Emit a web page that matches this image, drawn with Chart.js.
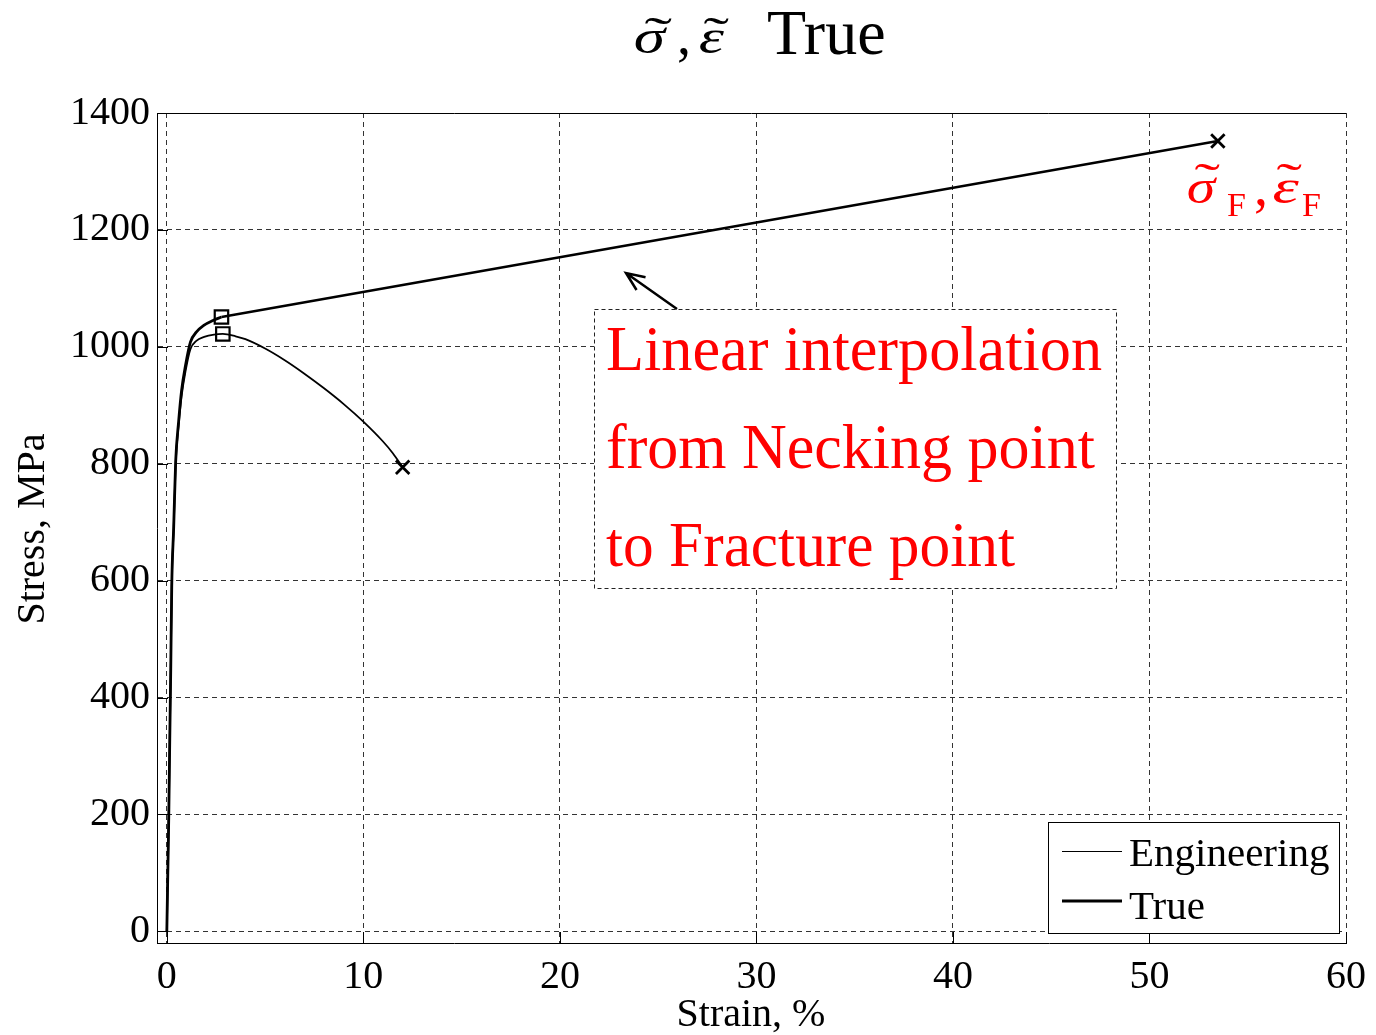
<!DOCTYPE html>
<html>
<head>
<meta charset="utf-8">
<script src="https://cdn.jsdelivr.net/npm/chart.js@4.4.0/dist/chart.umd.min.js"></script>
<style>
  body { margin: 0; background: #fff; }
  #wrap { width: 1376px; height: 1035px; }
</style>
</head>
<body>
<div id="wrap"><canvas id="chart" width="1376" height="1035"></canvas></div>
<script>
// engineering stress-strain curve (strain %, stress MPa)
const engStrain = [0, 0.05, 0.1, 0.15, 0.2, 0.25, 0.35, 0.45, 0.6, 0.75, 0.95, 1.2, 1.5, 1.9, 2.4, 2.85, 3.5, 4.0, 5.0, 6.0, 7.0, 8.0, 9.0, 10.0, 11.0, 11.5, 12.0];
const engStress = [0, 100, 200, 330, 450, 590, 690, 800, 865, 915, 958, 996, 1010, 1017, 1021, 1022, 1018, 1013, 997, 977, 954, 929, 902, 872, 838, 818, 794];

// true stress-strain curve up to necking
const trueStrain = [0, 0.05, 0.1, 0.15, 0.2, 0.25, 0.35, 0.45, 0.6, 0.75, 0.95, 1.2, 1.5, 1.9, 2.35, 2.78];
const trueStress = [0, 100, 200, 330, 450, 590, 692, 804, 872, 925, 968, 1008, 1025, 1037, 1045, 1051];

// linear interpolation necking -> fracture
const interpStrain = [2.78, 53.48];
const interpStress = [1051, 1352];

// markers
const neckStrain = [2.85, 2.78];
const neckStress = [1022, 1051];
const fractureStrain = [12.0, 53.48];
const fractureStress = [794, 1352];

const xTicks = [0, 10, 20, 30, 40, 50, 60];
const yTicks = [0, 200, 400, 600, 800, 1000, 1200, 1400];

const annotationLines = ['Linear interpolation', 'from Necking point', 'to Fracture point'];
const legendLabels = ['Engineering', 'True'];

const toXY = (xs, ys) => xs.map((x, i) => ({ x: x, y: ys[i] }));

const SERIF = '"Liberation Serif", "Times New Roman", serif';

// draw a glyph so that its ink starts at x and spans width w
function glyph(ctx, t, x, baseline, w) {
    const m = ctx.measureText(t);
    const gw = m.actualBoundingBoxLeft + m.actualBoundingBoxRight;
    ctx.save();
    ctx.translate(x, baseline);
    ctx.scale(w / gw, 1);
    ctx.textAlign = 'left';
    ctx.fillText(t, m.actualBoundingBoxLeft, 0);
    ctx.restore();
}

// draw a tilde accent centred on (cx, cy), stretched to width w
function tilde(ctx, cx, cy, w) {
    const m = ctx.measureText('˜');
    const gw = m.actualBoundingBoxLeft + m.actualBoundingBoxRight;
    const gcx = (m.actualBoundingBoxRight - m.actualBoundingBoxLeft) / 2;
    const gcy = (m.actualBoundingBoxDescent - m.actualBoundingBoxAscent) / 2;
    ctx.save();
    ctx.translate(cx, cy);
    ctx.scale(w / gw, 1);
    ctx.textAlign = 'left';
    ctx.fillText('˜', -gcx, -gcy);
    ctx.restore();
}

const decorations = {
    id: 'decorations',
    afterDraw(chart) {
        const ctx = chart.ctx;
        const xs = chart.scales.x, ys = chart.scales.y;
        const area = chart.chartArea;
        ctx.save();

        // axes box (top solid) and inward ticks
        ctx.strokeStyle = '#000';
        ctx.lineWidth = 1;
        ctx.setLineDash([]);
        ctx.beginPath();
        ctx.moveTo(area.left, area.top + 0.5);
        ctx.lineTo(area.right, area.top + 0.5);
        xTicks.forEach(v => {
            const px = Math.round(xs.getPixelForValue(v)) + 0.5;
            ctx.moveTo(px, area.bottom);
            ctx.lineTo(px, area.bottom - 11);
        });
        yTicks.forEach(v => {
            const py = Math.round(ys.getPixelForValue(v)) + 0.5;
            ctx.moveTo(area.left, py);
            ctx.lineTo(area.left + 11, py);
        });
        ctx.stroke();

        // annotation text box
        const bx = 594, by = 309, bw = 522, bh = 279;
        ctx.fillStyle = '#fff';
        ctx.fillRect(bx, by, bw, bh);
        ctx.setLineDash([4, 3]);
        ctx.strokeStyle = '#222';
        ctx.strokeRect(bx + 0.5, by + 0.5, bw, bh);
        ctx.setLineDash([]);

        ctx.fillStyle = '#ff0000';
        ctx.font = '63px ' + SERIF;
        ctx.textBaseline = 'alphabetic';
        ctx.textAlign = 'left';
        const lineWidths = [496, 489, 409];
        const baselines = [370, 468, 566];
        annotationLines.forEach((t, i) => {
            const w = ctx.measureText(t).width;
            ctx.save();
            ctx.translate(606, baselines[i]);
            ctx.scale(lineWidths[i] / w, 1);
            ctx.fillText(t, 0, 0);
            ctx.restore();
        });

        // arrow from box to interpolation line
        const tail = { x: 677, y: 309 };
        const tip = { x: 626, y: 273 };
        const ang = Math.atan2(tail.y - tip.y, tail.x - tip.x);
        ctx.strokeStyle = '#000';
        ctx.lineWidth = 2.5;
        ctx.beginPath();
        ctx.moveTo(tail.x, tail.y);
        ctx.lineTo(tip.x, tip.y);
        ctx.moveTo(tip.x + 20 * Math.cos(ang - 0.4), tip.y + 20 * Math.sin(ang - 0.4));
        ctx.lineTo(tip.x, tip.y);
        ctx.lineTo(tip.x + 20 * Math.cos(ang + 0.4), tip.y + 20 * Math.sin(ang + 0.4));
        ctx.stroke();

        // fracture label
        ctx.fillStyle = '#ff0000';
        ctx.font = 'italic 48px ' + SERIF;
        glyph(ctx, 'σ', 1188, 203, 30);
        glyph(ctx, 'ε', 1274, 203, 25);
        ctx.font = '46px ' + SERIF;
        tilde(ctx, 1207, 167, 25);
        tilde(ctx, 1289, 167, 25);
        ctx.font = '34px ' + SERIF;
        ctx.fillText('F', 1227, 216);
        ctx.fillText('F', 1302, 216);
        ctx.font = '56px ' + SERIF;
        ctx.fillText(',', 1254, 205);

        // title
        ctx.fillStyle = '#000';
        ctx.font = 'italic 48px ' + SERIF;
        glyph(ctx, 'σ', 635, 53, 33);
        glyph(ctx, 'ε', 700, 53, 24);
        ctx.font = '46px ' + SERIF;
        tilde(ctx, 658, 21, 27);
        tilde(ctx, 716, 21, 25);
        ctx.font = '56px ' + SERIF;
        ctx.fillText(',', 677, 54);
        ctx.font = '64px ' + SERIF;
        ctx.fillText('True', 767, 54);

        // axis titles
        ctx.font = '40px ' + SERIF;
        ctx.textAlign = 'center';
        ctx.fillText('Strain, %', 751, 1026);
        ctx.save();
        ctx.translate(44, 529);
        ctx.rotate(-Math.PI / 2);
        ctx.fillText('Stress, MPa', 0, 0);
        ctx.restore();

        // legend
        const lx = 1048, ly = 822, lw = 291, lh = 111;
        ctx.fillStyle = '#fff';
        ctx.fillRect(lx, ly, lw, lh);
        ctx.strokeStyle = '#000';
        ctx.lineWidth = 1;
        ctx.strokeRect(lx + 0.5, ly + 0.5, lw, lh);
        ctx.beginPath();
        ctx.moveTo(1062, 851.5);
        ctx.lineTo(1122, 851.5);
        ctx.stroke();
        ctx.lineWidth = 3;
        ctx.beginPath();
        ctx.moveTo(1062, 901);
        ctx.lineTo(1122, 901);
        ctx.stroke();
        ctx.fillStyle = '#000';
        ctx.textAlign = 'left';
        ctx.font = '41px ' + SERIF;
        ctx.fillText(legendLabels[0], 1129, 866);
        ctx.fillText(legendLabels[1], 1129, 919);

        ctx.restore();
    }
};

new Chart(document.getElementById('chart'), {
    type: 'scatter',
    data: {
        datasets: [
            {
                label: 'Engineering',
                type: 'line',
                data: toXY(engStrain, engStress),
                borderColor: '#000',
                borderWidth: 1.8,
                pointRadius: 0,
                fill: false,
                cubicInterpolationMode: 'monotone'
            },
            {
                label: 'True',
                type: 'line',
                data: toXY(trueStrain, trueStress),
                borderColor: '#000',
                borderWidth: 2.8,
                pointRadius: 0,
                fill: false,
                cubicInterpolationMode: 'monotone'
            },
            {
                label: 'Interpolation',
                type: 'line',
                data: toXY(interpStrain, interpStress),
                borderColor: '#000',
                borderWidth: 2.6,
                pointRadius: 0,
                fill: false
            },
            {
                label: 'Necking',
                data: toXY(neckStrain, neckStress),
                pointStyle: 'rect',
                pointRadius: 9.5,
                borderColor: '#000',
                backgroundColor: 'rgba(0,0,0,0)',
                borderWidth: 2.2
            },
            {
                label: 'Fracture',
                data: toXY(fractureStrain, fractureStress),
                pointStyle: 'crossRot',
                pointRadius: 9.5,
                borderColor: '#000',
                borderWidth: 2.8
            }
        ]
    },
    options: {
        responsive: false,
        animation: false,
        devicePixelRatio: 1,
        layout: { padding: { top: 113, right: 28, left: 0, bottom: 0 } },
        plugins: {
            legend: { display: false },
            tooltip: { enabled: false },
            title: { display: false }
        },
        scales: {
            x: {
                type: 'linear',
                min: -0.5,
                max: 60,
                afterBuildTicks: s => { s.ticks = xTicks.map(v => ({ value: v })); },
                afterFit: s => { s.height = 92; },
                grid: { color: '#333', lineWidth: 1, drawTicks: false },
                border: { display: true, color: '#000', width: 1, dash: [5, 4] },
                ticks: {
                    color: '#000',
                    padding: 10,
                    maxRotation: 0,
                    font: { family: SERIF, size: 40 },
                    callback: v => String(v)
                }
            },
            y: {
                type: 'linear',
                min: -20,
                max: 1400,
                afterBuildTicks: s => { s.ticks = yTicks.map(v => ({ value: v })); },
                afterFit: s => { s.width = 157; },
                grid: { color: '#333', lineWidth: 1, drawTicks: false },
                border: { display: true, color: '#000', width: 1, dash: [5, 4] },
                ticks: {
                    color: '#000',
                    padding: 7,
                    font: { family: SERIF, size: 40 },
                    callback: v => String(v)
                }
            }
        }
    },
    plugins: [decorations]
});
</script>
</body>
</html>
